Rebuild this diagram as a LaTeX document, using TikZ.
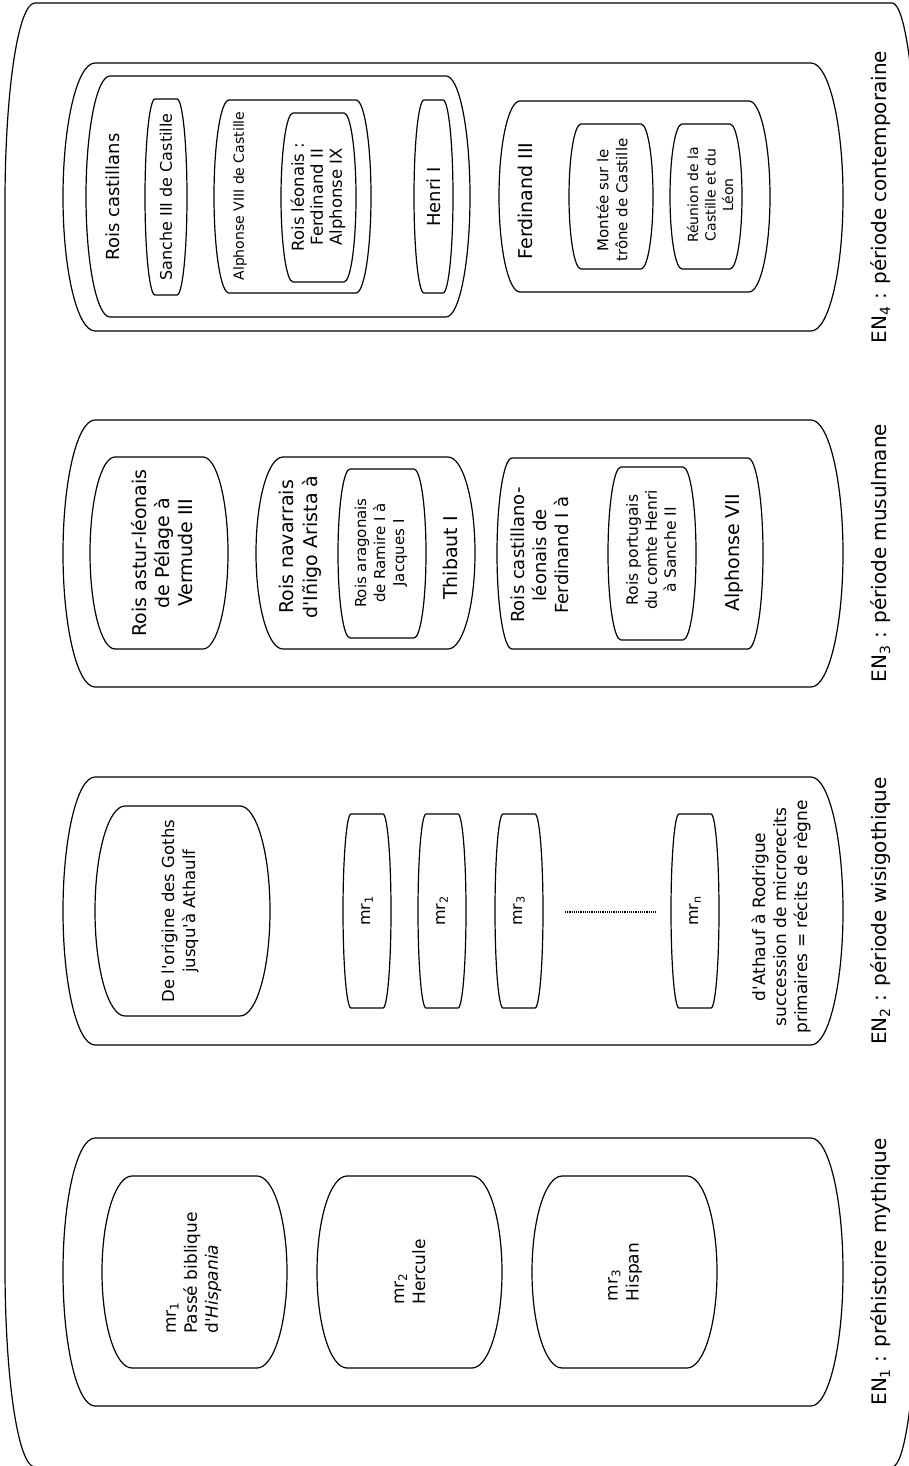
\documentclass[tikz,border=0pt]{standalone}
\usepackage{fontspec}
\setmainfont{DejaVu Sans}[Ligatures=TeXOff]
\newcommand\fsz[2]{\fontsize{#1}{#2}\selectfont}
% capsule: x1 y1 x2 y2 bulge
\newcommand\capshape[5]{%
  \pgfmathsetmacro\capXa{#1+#5}%
  \pgfmathsetmacro\capXb{#3-#5}%
  \pgfmathsetmacro\capYm{(#2+#4)/2}%
  \pgfmathsetmacro\capK{0.5523*#5}%
  \pgfmathsetmacro\capR{0.5523*(#4-#2)/2}%
  \draw[box] (\capXa,#2) -- (\capXb,#2)
    .. controls ({\capXb+\capK},#2) and (#3,{\capYm-\capR}) .. (#3,\capYm)
    .. controls (#3,{\capYm+\capR}) and ({\capXb+\capK},#4) .. (\capXb,#4)
    -- (\capXa,#4)
    .. controls ({\capXa-\capK},#4) and (#1,{\capYm+\capR}) .. (#1,\capYm)
    .. controls (#1,{\capYm-\capR}) and ({\capXa-\capK},#2) .. cycle;}
\tikzset{
  box/.style={draw=black, line width=1.2pt},
  lbl/.style={rotate=90, align=center, inner sep=0pt},
  lbll/.style={rotate=90, align=left, inner sep=0pt},
}
\begin{document}
\begin{tikzpicture}[x=1pt,y=-1pt]
\useasboundingbox (0,0) rectangle (909,1466);
\clip (0,0) rectangle (909,1466);
% outer frame
\draw[box] (35,3) -- (892,3)
  .. controls (906,3) and (917,92) .. (917,203) -- (917,1267)
  .. controls (917,1378) and (906,1467) .. (892,1467)
  -- (35,1467)
  .. controls (18,1467) and (5,1378) .. (5,1267) -- (5,203)
  .. controls (5,92) and (18,3) .. cycle;

% ---------- EN4 ----------
\capshape{63}{63}{843}{331}{32}
\capshape{86}{76}{470}{317}{24}
\capshape{145}{99}{187}{295}{10}
\capshape{214}{100}{371}{293}{15}
\capshape{281}{113}{356}{282}{12}
\capshape{414}{100}{453}{293}{10}
\capshape{499}{101}{770}{292}{21}
\capshape{569}{124}{653}{269}{12}
\capshape{670}{124}{742}{269}{12}
\node[lbl,font={\fsz{18}{22}}] (castillans) at (113,197) {Rois castillans};
\node[lbl,font={\fsz{16}{20}}] (sanche) at (166,197) {Sanche III de Castille};
\node[lbl,font={\fsz{14}{17}}] (alphviii) at (240,196) {Alphonse VIII de Castille};
\node[lbl,font={\fsz{16.5}{19}}] (leonais) at (318,197) {Rois léonais :\\Ferdinand II\\Alphonse IX};
\node[lbl,font={\fsz{18}{22}}] (henri) at (434,197) {Henri I};
\node[lbl,font={\fsz{19}{23}}] (ferdiii) at (525,201) {Ferdinand III};
\node[lbl,font={\fsz{15}{19}}] (montee) at (612,200) {Montée sur le\\trône de Castille};
\node[lbl,font={\fsz{14}{17.5}}] (reunion) at (710,195) {Réunion de la\\Castille et du\\Léon};
\node[lbl,font={\fsz{20}{24}}] (en4) at (881,197) {EN\textsubscript{4} : période contemporaine};

% ---------- EN3 ----------
\capshape{63}{420}{843}{687}{32}
\capshape{90}{457}{228}{649}{25}
\capshape{256}{457}{475}{649}{27}
\capshape{338}{469}{426}{638}{12}
\capshape{497}{458}{763}{649}{15}
\capshape{608}{467}{696}{640}{13}
\node[lbl,font={\fsz{19}{23}}] (astur) at (162,553) {Rois astur-léonais\\de Pélage à\\Vermude III};
\node[lbl,font={\fsz{19}{24}}] (navarrais) at (300,547) {Rois navarrais\\d'Iñigo Arista à};
\node[lbl,font={\fsz{15}{19}}] (aragonais) at (381,553) {Rois aragonais\\de Ramire I à\\Jacques I};
\node[lbl,font={\fsz{19}{23}}] (thibaut) at (450,558) {Thibaut I};
\node[lbl,font={\fsz{18}{22}}] (castleon) at (540,555) {Rois castillano-\\léonais de\\Ferdinand I à};
\node[lbl,font={\fsz{15.5}{19}}] (portugais) at (651,550) {Rois portugais\\du comte Henri\\à Sanche II};
\node[lbl,font={\fsz{19}{23}}] (alphvii) at (734,553) {Alphonse VII};
\node[lbl,font={\fsz{20}{24}}] (en3) at (881,553) {EN\textsubscript{3} : période musulmane};

% ---------- EN2 ----------
\capshape{63}{777}{843}{1045}{32}
\capshape{95}{806}{270}{1016}{30}
\capshape{343}{814}{391}{1008}{8}
\capshape{418}{814}{466}{1008}{8}
\capshape{495}{814}{543}{1008}{8}
\capshape{671}{814}{719}{1008}{8}
\node[lbl,font={\fsz{16.5}{21}}] (goths) at (180,911) {De l'origine des Goths\\jusqu'à Athaulf};
\node[lbl,font={\fsz{16}{20}}] (mra) at (367,911) {mr\textsubscript{1}};
\node[lbl,font={\fsz{16}{20}}] (mrb) at (442,911) {mr\textsubscript{2}};
\node[lbl,font={\fsz{16}{20}}] (mrc) at (519,911) {mr\textsubscript{3}};
\node[lbl,font={\fsz{16}{20}}] (mrn) at (695,911) {mr\textsubscript{n}};
\coordinate (dotA) at (565,912);
\coordinate (dotB) at (656,912);
\draw[line width=1.2pt, densely dotted] (dotA) -- (dotB);
\node[lbl,font={\fsz{17}{21}}] (athauf) at (781,917) {d'Athauf à Rodrigue\\succession de microrecits\\primaires = récits de règne};
\node[lbl,font={\fsz{20}{24}}] (en2) at (881,911) {EN\textsubscript{2} : période wisigothique};

% ---------- EN1 ----------
\capshape{63}{1138}{843}{1406}{32}
\capshape{102}{1176}{287}{1368}{30}
\capshape{317}{1176}{502}{1368}{30}
\capshape{532}{1176}{717}{1368}{30}
\node[lbll,font={\fsz{17}{21}}] (biblique) at (194,1273) {mr\textsubscript{1}\\Passé biblique\\d'\textit{Hispania}};
\node[lbll,font={\fsz{17}{21}}] (hercule) at (410,1272) {mr\textsubscript{2}\\Hercule};
\node[lbll,font={\fsz{17}{21}}] (hispan) at (625,1272) {mr\textsubscript{3}\\Hispan};
\node[lbl,font={\fsz{20}{24}}] (en1) at (881,1272) {EN\textsubscript{1} : préhistoire mythique};
\end{tikzpicture}
\end{document}
